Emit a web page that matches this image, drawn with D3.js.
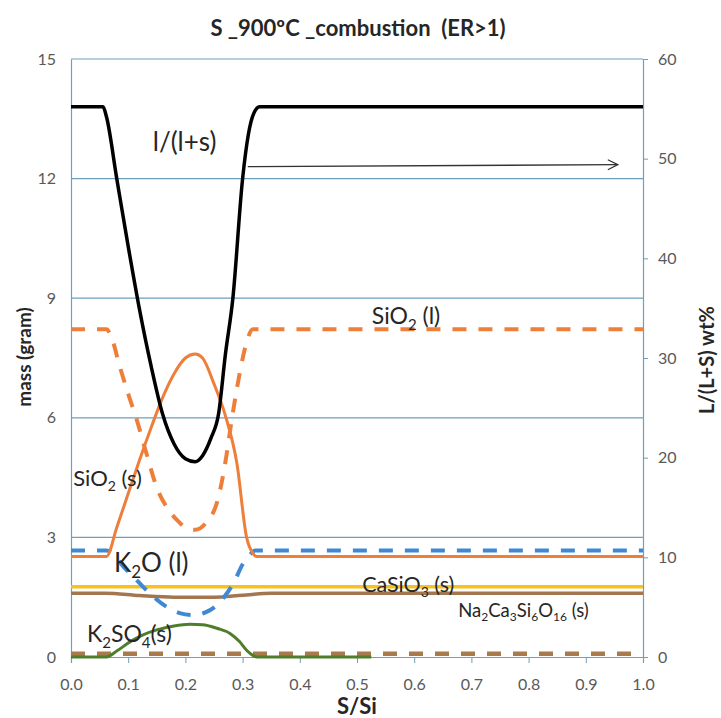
<!DOCTYPE html>
<html><head><meta charset="utf-8">
<script src="https://cdn.jsdelivr.net/npm/d3@7"></script>
<style>
html,body{margin:0;padding:0;background:#fff;}
svg{display:block;font-family:Lato,"Open Sans",sans-serif;}
</style></head>
<body><svg id="c" width="721" height="718"></svg>
<script>
// ---- data ----
const xTicks = [0,0.1,0.2,0.3,0.4,0.5,0.6,0.7,0.8,0.9,1.0];
const leftTicks = [0,3,6,9,12,15];
const rightTicks = [0,10,20,30,40,50,60];

// l/(l+s) in wt% (right axis)
const ratioLS = [[0,55.2],[0.056,55.2],[0.062,54.2],[0.08,48],[0.10,41.2],[0.12,34.8],[0.14,29.2],[0.16,24.4],[0.18,21.4],[0.20,19.9],[0.217,19.6],[0.23,20.2],[0.245,22],[0.258,24.4],[0.27,30.4],[0.283,36],[0.30,48],[0.31,52.4],[0.32,54.6],[0.33,55.2],[1.0,55.2]];
// mass (gram), left axis
const sio2Liquid = [[0,8.22],[0.062,8.22],[0.07,8.05],[0.085,7.3],[0.10,6.6],[0.115,5.95],[0.13,5.2],[0.15,4.25],[0.17,3.7],[0.185,3.44],[0.20,3.25],[0.217,3.19],[0.235,3.35],[0.258,4.02],[0.27,4.9],[0.281,5.95],[0.295,7.12],[0.307,7.9],[0.318,8.22],[1.0,8.22]];
const sio2Solid = [[0,2.52],[0.062,2.52],[0.08,3.25],[0.10,4.1],[0.12,4.95],[0.14,5.75],[0.16,6.5],[0.18,7.1],[0.20,7.5],[0.217,7.6],[0.23,7.5],[0.25,6.85],[0.27,6.05],[0.29,4.86],[0.307,3.0],[0.318,2.6],[0.325,2.52],[1.0,2.52]];
const k2oLiquid = [[0,2.67],[0.062,2.67],[0.075,2.55],[0.092,2.26],[0.11,2.0],[0.126,1.76],[0.145,1.5],[0.167,1.26],[0.19,1.1],[0.214,1.05],[0.235,1.12],[0.255,1.3],[0.27,1.55],[0.284,1.85],[0.301,2.35],[0.312,2.55],[0.322,2.67],[1.0,2.67]];
const casio3Solid = [[0,1.76],[0.2,1.76],[0.4,1.76],[0.6,1.76],[0.8,1.76],[1.0,1.76]];
const na2ca3si6o16Solid = [[0,1.6],[0.06,1.6],[0.12,1.54],[0.18,1.5],[0.25,1.5],[0.3,1.55],[0.35,1.6],[1.0,1.6]];
const k2so4Solid = [[0,0],[0.062,0],[0.08,0.15],[0.103,0.38],[0.125,0.55],[0.15,0.68],[0.18,0.78],[0.208,0.82],[0.23,0.81],[0.255,0.72],[0.278,0.59],[0.295,0.38],[0.307,0.17],[0.318,0.04],[0.325,0],[0.525,0]];
const zeroDashed = [[0,0.08],[1.0,0.08]];
const arrowLine = [[0.309,49.2],[0.956,49.4]];

// ---- layout ----
const svg = d3.select("#c");
const L = 71, R = 643, T = 59, B = 657;
const x = d3.scaleLinear().domain([0,1]).range([L,R]);
const y = d3.scaleLinear().domain([0,15]).range([B,T]);
const yR = d3.scaleLinear().domain([0,60]).range([B,T]);
const gridColor = "#6e9fbd";
const tickColor = "#595959";

// gridlines
svg.append("g").selectAll("line").data(leftTicks.filter(d=>d>0)).join("line")
  .attr("x1",L).attr("x2",R).attr("y1",d=>y(d)).attr("y2",d=>y(d))
  .attr("stroke",gridColor).attr("stroke-width",1.2);

// left axis
const gL = svg.append("g").attr("transform",`translate(${L},0)`)
  .call(d3.axisLeft(y).tickValues(leftTicks).tickSize(0).tickPadding(15));
gL.select(".domain").attr("stroke",gridColor).attr("stroke-width",1.2);
gL.selectAll("text").attr("fill",tickColor).style("font-size","16px").style("font-family","Lato");

// right axis
const gR = svg.append("g").attr("transform",`translate(${R},0)`)
  .call(d3.axisRight(yR).tickValues(rightTicks).tickSize(5).tickPadding(10));
gR.select(".domain").attr("stroke",gridColor).attr("stroke-width",1.2);
gR.selectAll(".tick line").attr("stroke",gridColor);
gR.selectAll("text").attr("fill",tickColor).style("font-size","16px").style("font-family","Lato");

// bottom axis
const gB = svg.append("g").attr("transform",`translate(0,${B})`)
  .call(d3.axisBottom(x).tickValues(xTicks).tickSize(6).tickPadding(16).tickFormat(d3.format(".1f")));
gB.select(".domain").attr("stroke",gridColor).attr("stroke-width",1.2);
gB.selectAll(".tick line").attr("stroke",gridColor);
gB.selectAll("text").attr("fill",tickColor).style("font-size","16px").style("font-family","Lato");

// series
const lineL = d3.line().x(d=>x(d[0])).y(d=>y(d[1])).curve(d3.curveMonotoneX);
const lineR = d3.line().x(d=>x(d[0])).y(d=>yR(d[1])).curve(d3.curveMonotoneX);
const series = [
  {data:zeroDashed, color:"#a97a4b", w:4.5, dash:"14,12", gen:lineL},
  {data:k2so4Solid, color:"#4e7d2c", w:3, dash:null, gen:lineL},
  {data:na2ca3si6o16Solid, color:"#a47650", w:3.5, dash:null, gen:lineL},
  {data:casio3Solid, color:"#f7c221", w:3.5, dash:null, gen:lineL},
  {data:k2oLiquid, color:"#3f88d4", w:4, dash:"14,12", gen:lineL},
  {data:sio2Solid, color:"#ee7f3a", w:3, dash:null, gen:lineL},
  {data:sio2Liquid, color:"#ee7f3a", w:4, dash:"14,12", gen:lineL},
  {data:ratioLS, color:"#000000", w:3.5, dash:null, gen:lineR}
];
svg.append("g").selectAll("path").data(series).join("path")
  .attr("d",s=>s.gen(s.data)).attr("fill","none")
  .attr("stroke",s=>s.color).attr("stroke-width",s=>s.w)
  .attr("stroke-dasharray",s=>s.dash).attr("stroke-linejoin","round");

// arrow annotation
svg.append("defs").append("marker").attr("id","arr").attr("viewBox","0 0 12 12")
  .attr("refX",11).attr("refY",6).attr("markerWidth",12).attr("markerHeight",12)
  .attr("markerUnits","userSpaceOnUse").attr("orient","auto")
  .append("path").attr("d","M1,1 L11,6 L1,11").attr("fill","none").attr("stroke","#333").attr("stroke-width",1.2);
svg.append("line").attr("x1",x(arrowLine[0][0])).attr("y1",yR(arrowLine[0][1]))
  .attr("x2",x(arrowLine[1][0])).attr("y2",yR(arrowLine[1][1]))
  .attr("stroke","#333").attr("stroke-width",1.3).attr("marker-end","url(#arr)");

// labels: [parts], x, y (data space, left axis), size
const labels = [
  {parts:[["l/(l+s)"]], x:0.143, y:12.69, size:26},
  {parts:[["SiO"],["2","sub"],[" (l)"]], x:0.526, y:8.35, size:23},
  {parts:[["SiO"],["2","sub"],[" (s)"]], x:0.004, y:4.29, size:22},
  {parts:[["K"],["2","sub"],["O (l)"]], x:0.075, y:2.14, size:26},
  {parts:[["CaSiO"],["3","sub"],[" (s)"]], x:0.509, y:1.64, size:21.5},
  {parts:[["Na"],["2","sub"],["Ca"],["3","sub"],["Si"],["6","sub"],["O"],["16","sub"],[" (s)"]], x:0.677, y:1.01, size:18.5},
  {parts:[["K"],["2","sub"],["SO"],["4","sub"],["(s)"]], x:0.028, y:0.38, size:23}
];
labels.forEach(lb=>{
  const t = svg.append("text").attr("x",x(lb.x)).attr("y",y(lb.y))
    .attr("fill","#262626").style("font-size",lb.size+"px").style("font-family","Lato");
  let sub = false;
  lb.parts.forEach(p=>{
    const isSub = p[1]==="sub";
    const ts = t.append("tspan").text(p[0]);
    if(isSub){ ts.style("font-size",Math.round(lb.size*0.65)+"px").attr("dy",lb.size*0.25); }
    else if(sub){ ts.attr("dy",-lb.size*0.25); }
    sub = isSub;
  });
});

// titles
svg.append("text").attr("x",358).attr("y",36).attr("text-anchor","middle")
  .style("font-size","22px").style("font-weight","bold").attr("fill","#262626")
  .attr("xml:space","preserve").text("S _900ºC _combustion  (ER>1)");
svg.append("text").attr("x",(L+R)/2).attr("y",714).attr("text-anchor","middle")
  .style("font-size","22px").style("font-weight","bold").attr("fill","#262626").text("S/Si");
svg.append("text").attr("transform",`translate(31,357) rotate(-90)`).attr("text-anchor","middle")
  .style("font-size","19px").style("font-weight","bold").attr("fill","#262626").text("mass (gram)");
svg.append("text").attr("transform",`translate(714,360) rotate(-90)`).attr("text-anchor","middle")
  .style("font-size","20px").style("font-weight","bold").attr("fill","#262626").text("L/(L+S) wt%");
</script></body></html>
